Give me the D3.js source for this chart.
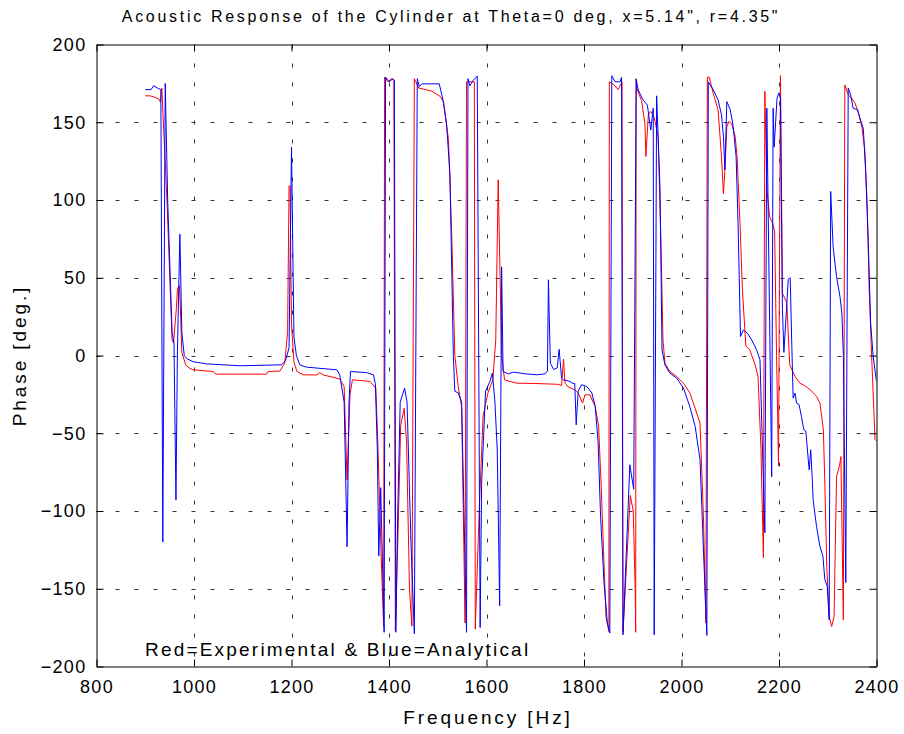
<!DOCTYPE html>
<html>
<head>
<meta charset="utf-8">
<script src="https://cdn.jsdelivr.net/npm/d3@7"></script>
<style>
  body { margin: 0; background: #fff; }
  svg { display: block; }
  text { font-family: "Liberation Sans", Arial, Helvetica, sans-serif; fill: #000; }
</style>
</head>
<body>
<svg id="chart" width="904" height="734"></svg>
<script>
const titleText = 'Acoustic Response of the Cylinder at Theta=0 deg, x=5.14", r=4.35"';
const xLabelText = "Frequency [Hz]";
const yLabelText = "Phase [deg.]";
const noteText = "Red=Experimental & Blue=Analytical";
const xTicks = [800, 1000, 1200, 1400, 1600, 1800, 2000, 2200, 2400];
const yTicks = [-200, -150, -100, -50, 0, 50, 100, 150, 200];

// Experimental (red): [frequency Hz, phase deg]
const redData = [
[900,167],[910,167],[920,166],[928,165],[931,163],[934,172],[945,96],[955,10],[958,8],[964,31],
[966,43],[970,45],[972,31],[975,2],[983,-6],[990,-8],[998,-9.2],[1039,-10.3],[1045,-12],[1094,-12],
[1149,-12],[1152,-10.3],[1176,-10],[1186,-5],[1192,15],[1195,109],[1197,109],[1200,20],[1205,-4],[1211,-10.3],
[1224,-12.4],[1252,-12.5],[1258,-11],[1265,-12.5],[1285,-14],[1299,-15.2],[1308,-20],[1314,-80],[1320,-25],[1325,-15.6],
[1361,-16.7],[1373,-21],[1377,-55],[1384,-130],[1389,-174],[1391,179],[1398,176],[1405,178],[1410,177],[1413,-177],
[1418,-120],[1424,-45],[1431,-34],[1436,-55],[1442,-150],[1447,-174],[1452,178],[1455,176],[1461,172],[1475,171],
[1488,170],[1505,166.6],[1512,163],[1522,139],[1529,74],[1535,0],[1542,-20],[1549,-33],[1556,-172],[1559,176],
[1575,176],[1577,-176],[1585,-100],[1593,-39],[1603,-24],[1613,-15.6],[1619,10],[1624,113],[1631,0],[1637,-15.6],
[1648,-16.7],[1662,-17.8],[1700,-18],[1745,-18.5],[1754,-19.3],[1758,-2.3],[1761,-17.8],[1768,-20.3],[1781,-22],[1788,-24],
[1797,-30.6],[1802,-25.3],[1812,-25.3],[1823,-32.8],[1830,-45.6],[1835,-82],[1840,-125],[1845,-168],[1851,-177.5],[1852,176],
[1862,174],[1870,171],[1878,176],[1880,-177.5],[1888,-130],[1895,-90],[1901,-100],[1905,-150],[1906,-178],[1907,178],
[1909,171],[1918,164],[1925,149],[1927,128],[1932,155],[1937,157],[1944,153],[1952,141],[1958,70],[1962,10],
[1966,-5],[1976,-10.3],[1990,-13.5],[2004,-17.8],[2017,-24],[2028,-34],[2038,-43.5],[2045,-103.5],[2050,-172],[2053,179],
[2057,179],[2065,168.7],[2075,158],[2082,128],[2086,104],[2089,119],[2093,147],[2097,150.5],[2103,149],[2110,141],
[2114,128],[2120,85],[2125,42],[2132,6],[2140,3.7],[2151,-6],[2157,-13.5],[2163,-60],[2168,-130],[2171,170],
[2175,107],[2181,89],[2187,85],[2191,80],[2195,0],[2199,-71],[2203,180],[2207,40],[2216,34],[2222,-6],
[2233,-13.5],[2243,-17.8],[2253,-19.5],[2264,-22],[2277,-26.3],[2284,-30.6],[2291,-47.8],[2294,-82],[2298,-135.7],[2303,-168],
[2308,-174.3],[2313,-168],[2318,-78],[2324,-71],[2327,-65],[2332,-170],[2335,174],[2342,167.6],[2349,165.5],[2356,162.3],
[2363,156],[2370,147],[2376,132],[2381,96],[2385,42],[2390,0],[2397,-54],[2400,-55]
];

// Analytical (blue): [frequency Hz, phase deg]
const blueData = [
[900,171],[912,171],[917,173.5],[925,172],[932,171],[936,-120],[941,175],[946,100],[955,15],[959,8],
[963,-93],[966,3],[971,78],[975,15],[980,0],[985,-2],[998,-4],[1026,-5.4],[1094,-6.6],[1180,-6],
[1188,-3],[1195,5],[1200,134],[1205,12],[1210,0],[1217,-6],[1231,-7.5],[1293,-9.2],[1299,-12.4],[1308,-30],
[1314,-123],[1318,-30],[1321,-10.3],[1354,-11],[1368,-12.4],[1372,-18],[1376,-60],[1379,-129],[1383,-85],[1390,-178],
[1393,179],[1400,176],[1408,178],[1411,177],[1414,-178],[1418,-100],[1423,-30],[1432,-21],[1437,-30],[1445,-120],
[1452,-179],[1458,178],[1462,173],[1468,174.7],[1503,174.7],[1511,164],[1518,149],[1525,117],[1532,0],[1535,-23],
[1542,-24],[1549,-30],[1559,-178],[1562,178],[1566,173.5],[1572,176.6],[1581,179.7],[1587,-175],[1590,-82],[1598,-23],
[1607,-16.7],[1612,-11.3],[1617,-28.5],[1622,-60],[1627,-161],[1631,57],[1634,-10.3],[1645,-11.8],[1655,-10.7],[1680,-11.8],
[1703,-12.4],[1720,-11.8],[1725,-10],[1727,48.7],[1731,-5],[1738,-9],[1745,-8],[1749,4],[1754,-14.5],[1758,-15.6],
[1771,-16.7],[1776,-17.8],[1781,-18],[1784,-44.6],[1788,-23],[1795,-18.8],[1806,-20],[1816,-24],[1823,-32.8],[1829,-56],
[1834,-103.5],[1841,-146],[1848,-172],[1853,-178.5],[1857,179.9],[1864,176],[1874,176],[1877,178.8],[1880,-179.6],[1887,-125],
[1894,-70.3],[1902,-86],[1907,177.7],[1911,170.9],[1921,164.4],[1930,161],[1937,145],[1942,159],[1944,-179.6],[1949,167],
[1956,107],[1960,3.6],[1966,-6],[1976,-11.3],[1990,-14.5],[2004,-21],[2017,-32.8],[2028,-45.6],[2038,-67],[2045,-125],
[2052,-180],[2055,176],[2065,171],[2075,164.4],[2082,154.8],[2086,140.8],[2089,119.4],[2093,163.3],[2100,158],[2106,147.3],
[2112,128],[2116,85],[2121,12.2],[2127,16.5],[2135,14.4],[2144,10],[2154,3.7],[2161,-2.8],[2171,-114],[2175,159],
[2185,-78],[2188,159],[2190,134],[2196,165.5],[2200,169],[2203,165],[2207,30],[2210,2],[2219,49],[2223,50],
[2226,10],[2229,-27.4],[2233,-24.2],[2236,-30.6],[2241,-31.4],[2246,-39.2],[2251,-47.8],[2255,-48.6],[2260,-67],[2262,-73.5],
[2265,-60.6],[2268,-77.8],[2270,-92.8],[2277,-110],[2284,-122.8],[2290,-129],[2294,-144],[2299,-148.5],[2303,-170],[2306,105.5],
[2311,70],[2318,50.8],[2325,38],[2329,27.3],[2332,0],[2337,-146],[2342,172],[2347,167.6],[2352,159],[2361,158],
[2366,152.7],[2373,146],[2378,117],[2383,74],[2388,21],[2393,0],[2400,-17]
];

const svg = d3.select("#chart");
const L = 96.5, R = 876.5, T = 44.5, B = 666.5;
const x = d3.scaleLinear().domain([800, 2400]).range([L, R]);
const y = d3.scaleLinear().domain([-200, 200]).range([B, T]);

svg.append("rect").attr("width", 904).attr("height", 734).attr("fill", "#fff");

// grid
const grid = svg.append("g");
xTicks.slice(1, -1).forEach(v => {
  grid.append("line").attr("x1", Math.round(x(v)) + 0.5).attr("x2", Math.round(x(v)) + 0.5)
    .attr("y1", T).attr("y2", B).attr("stroke", "#333").attr("stroke-width", 1)
    .attr("stroke-dasharray", "4,15");
});
yTicks.slice(1, -1).forEach(v => {
  grid.append("line").attr("y1", Math.round(y(v)) + 0.5).attr("y2", Math.round(y(v)) + 0.5)
    .attr("x1", L).attr("x2", R).attr("stroke", "#333").attr("stroke-width", 1)
    .attr("stroke-dasharray", "4,15");
});

// lines
svg.append("clipPath").attr("id", "clip").append("rect")
  .attr("x", L).attr("y", T).attr("width", R - L).attr("height", B - T);
const line = d3.line().x(d => x(d[0])).y(d => y(d[1]));
const plot = svg.append("g").attr("clip-path", "url(#clip)");
plot.append("path").datum(redData).attr("d", line).attr("fill", "none")
  .attr("stroke", "#ff0000").attr("stroke-width", 1);
plot.append("path").datum(blueData).attr("d", line).attr("fill", "none")
  .attr("stroke", "#0000ff").attr("stroke-width", 1);

// axes (MATLAB style: inward ticks on all sides)
const tickLen = 7;
const fs = 18;
const fmt = d3.format("d");
const axB = svg.append("g").attr("transform", `translate(0,${B})`)
  .call(d3.axisBottom(x).tickValues(xTicks).tickFormat(fmt).tickSizeInner(-tickLen).tickSizeOuter(0).tickPadding(10));
const axT = svg.append("g").attr("transform", `translate(0,${T})`)
  .call(d3.axisTop(x).tickValues(xTicks).tickSizeInner(-tickLen).tickSizeOuter(0).tickFormat(""));
const axL = svg.append("g").attr("transform", `translate(${L},0)`)
  .call(d3.axisLeft(y).tickValues(yTicks).tickFormat(fmt).tickSizeInner(-tickLen).tickSizeOuter(0).tickPadding(10));
const axR = svg.append("g").attr("transform", `translate(${R},0)`)
  .call(d3.axisRight(y).tickValues(yTicks).tickSizeInner(-tickLen).tickSizeOuter(0).tickFormat(""));
[axB, axT, axL, axR].forEach(a => {
  a.select(".domain").attr("stroke", "#000").attr("stroke-width", 1);
  a.selectAll(".tick line").attr("stroke", "#000");
  a.selectAll("text").attr("font-size", fs).attr("letter-spacing", "1.3px")
    .attr("font-family", '"Liberation Sans", Arial, sans-serif').attr("fill", "#000");
});
axB.selectAll("text").attr("dy", "0.9em");

// title and labels
svg.append("text").attr("x", 451).attr("y", 22).attr("text-anchor", "middle")
  .attr("font-size", 16).attr("letter-spacing", "2.7px").text(titleText);
svg.append("text").attr("x", 488).attr("y", 724).attr("text-anchor", "middle")
  .attr("font-size", 19).attr("letter-spacing", "2.9px").text(xLabelText);
svg.append("text").attr("transform", `translate(26,${(T + B) / 2}) rotate(-90)`)
  .attr("text-anchor", "middle").attr("font-size", 19).attr("letter-spacing", "2.9px").text(yLabelText);
svg.append("text").attr("x", 145).attr("y", 656)
  .attr("font-size", 19).attr("letter-spacing", "2.2px").text(noteText);
</script>
</body>
</html>
